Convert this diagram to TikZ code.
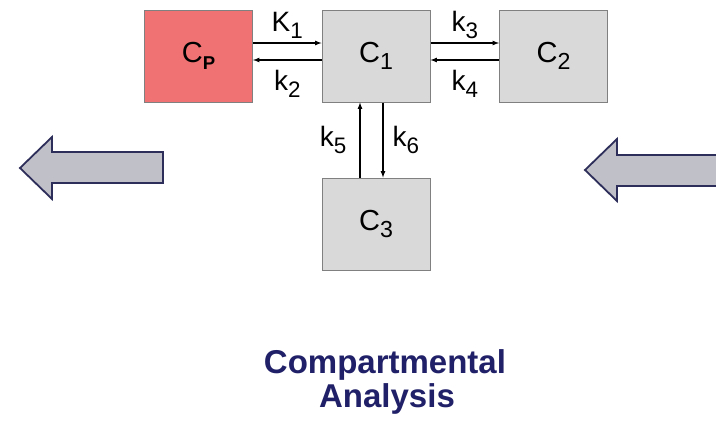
\documentclass[tikz,border=0pt]{standalone}
\usepackage{fontspec}
\setmainfont{Liberation Sans}
\usepackage{xcolor}
\usepackage{graphicx}
\usepackage{tikz}
\usetikzlibrary{arrows,calc}

\definecolor{cpred}{RGB}{240,114,114}
\definecolor{boxgray}{RGB}{217,217,217}
\definecolor{edgegray}{RGB}{128,128,128}
\definecolor{navy}{RGB}{32,32,104}
\definecolor{arrowfill}{RGB}{192,192,200}
\definecolor{arrowedge}{RGB}{46,46,90}

% large, lowered index as on the slide
\newcommand{\lowidx}[1]{\raisebox{-0.23em}{\scalebox{0.8}{#1}}}

\tikzset{
  compbox/.style={draw=edgegray, line width=1pt, fill=boxgray,
    minimum width=108pt, minimum height=92pt, inner sep=0pt,
    font=\fontsize{29}{31}\selectfont},
  flow/.style={->, >=latex, line width=1.2pt},
  rate/.style={font=\fontsize{28}{30}\selectfont, inner sep=2pt},
  bigarrow/.style={draw=arrowedge, line width=1.8pt, fill=arrowfill, line join=miter}
}

\begin{document}
\begin{tikzpicture}[x=1pt, y=-1pt]

        \clip (0,0) rectangle (716,421);

        % compartments
        \node[compbox, fill=cpred] (cp) at (198.5,56) {C\lowidx{\scalebox{0.8}{\bfseries P}}};
        \node[compbox] (c1) at (376,56) {C\lowidx{1}};
        \node[compbox] (c2) at (553.5,56) {C\lowidx{2}};
        \node[compbox] (c3) at (376,224) {C\lowidx{3}};

        % exchange between plasma and C1
        \draw[flow] ([yshift=13pt]cp.east) -- node[rate, above=2pt] (k1) {K\lowidx{1}} ([yshift=13pt]c1.west);
        \draw[flow] ([yshift=-4pt]c1.west) -- node[rate, below=8pt] (k2) {k\lowidx{2}} ([yshift=-4pt]cp.east);

        % exchange between C1 and C2
        \draw[flow] ([yshift=13pt]c1.east) -- node[rate, above=2pt] (k3) {k\lowidx{3}} ([yshift=13pt]c2.west);
        \draw[flow] ([yshift=-4pt]c2.west) -- node[rate, below=8pt] (k4) {k\lowidx{4}} ([yshift=-4pt]c1.east);

        % exchange between C1 and C3
        \draw[flow] ([xshift=-16pt]c3.north) -- node[rate, left=11pt] (k5) {k\lowidx{5}} ([xshift=-16pt]c1.south);
        \draw[flow] ([xshift=7pt]c1.south) -- node[rate, right=7pt] (k6) {k\lowidx{6}} ([xshift=7pt]c3.north);

        % big arrows
        \draw[bigarrow] (163,152) -- (52,152) -- (52,137) -- (20,168) -- (52,199) -- (52,183) -- (163,183) -- cycle;
        \draw[bigarrow] (725,155) -- (617,155) -- (617,139) -- (585,170) -- (617,201) -- (617,186) -- (725,186) -- cycle;

        % title
        \node[anchor=base, text=navy, font=\fontsize{33}{35}\selectfont\bfseries] (title) at (385,373) {Compartmental};
        \node[anchor=base, text=navy, font=\fontsize{33}{35}\selectfont\bfseries] (subtitle) at (387,407) {Analysis};

\end{tikzpicture}
\end{document}
